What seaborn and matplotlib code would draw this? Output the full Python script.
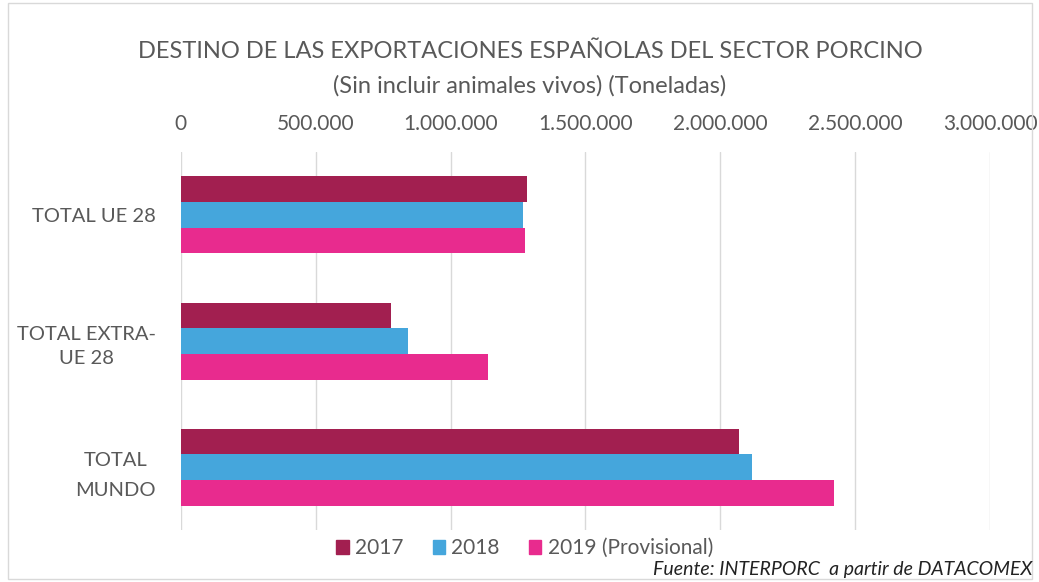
import matplotlib
matplotlib.use("Agg")
import matplotlib.pyplot as plt
import matplotlib.patches as mpatches
import seaborn as sns
import pandas as pd
from matplotlib.ticker import FuncFormatter

# data (toneladas)
destinos = ["TOTAL UE 28", "TOTAL EXTRA-\nUE 28", "TOTAL\nMUNDO"]
years = ["2017", "2018", "2019 (Provisional)"]
t_2017 = [1282000, 780000, 2070000]
t_2018 = [1268000, 842000, 2117000]
t_2019 = [1276000, 1137000, 2422000]
colors = ["#A21F50", "#45A6DC", "#E82B8E"]

df = pd.DataFrame({
    "destino": destinos * 3,
    "anio": [y for y in years for _ in destinos],
    "toneladas": t_2017 + t_2018 + t_2019,
})

sns.set_theme(style="white")
plt.rcParams["font.family"] = ["Lato", "DejaVu Sans"]

fig = plt.figure(figsize=(10.39, 5.82), dpi=100)
ax = fig.add_axes([0.174, 0.089, 0.779, 0.650])

sns.barplot(data=df, y="destino", x="toneladas", hue="anio", orient="h",
            palette=colors, width=0.61, saturation=1, linewidth=0,
            ax=ax, legend=False)

ax.set_xlim(0, 3000000)
ax.set_xticks(range(0, 3000001, 500000))
ax.xaxis.set_major_formatter(FuncFormatter(lambda v, p: f"{int(v):,}".replace(",", ".")))
ax.xaxis.tick_top()
ax.grid(axis="x", color="#D9D9D9", linewidth=1)
ax.set_axisbelow(True)
for s in ax.spines.values():
    s.set_visible(False)
ax.set_xlabel("")
ax.set_ylabel("")
ax.tick_params(axis="x", length=0, pad=13, labelsize=15, labelcolor="#595959")
ax.tick_params(axis="y", length=0, pad=18, labelsize=14.5, labelcolor="#595959")
for lab, ls in zip(ax.get_yticklabels(), [1.2, 1.5, 1.95]):
    lab.set_multialignment("center")
    lab.set_linespacing(ls)

fig.text(0.51, 0.912, "DESTINO DE LAS EXPORTACIONES ESPAÑOLAS DEL SECTOR PORCINO",
         ha="center", va="center", fontsize=17, color="#595959")
fig.text(0.51, 0.852, "(Sin incluir animales vivos) (Toneladas)",
         ha="center", va="center", fontsize=17, color="#595959")

handles = [mpatches.Patch(color=c, label=y) for c, y in zip(colors, years)]
fig.legend(handles=handles, loc="center", bbox_to_anchor=(0.505, 0.058), ncol=3,
           frameon=False, fontsize=15, handlelength=0.6, handleheight=0.6,
           handletextpad=0.3, columnspacing=1.4, labelcolor="#595959")

fig.text(0.994, 0.022, "Fuente: INTERPORC  a partir de DATACOMEX",
         ha="right", va="center", fontsize=14, style="italic", color="#222222")

fig.patches.append(mpatches.Rectangle((0.008, 0.005), 0.985, 0.99, transform=fig.transFigure,
                                      fill=False, edgecolor="#D9D9D9", linewidth=1))

fig.savefig("out.png", dpi=100)
